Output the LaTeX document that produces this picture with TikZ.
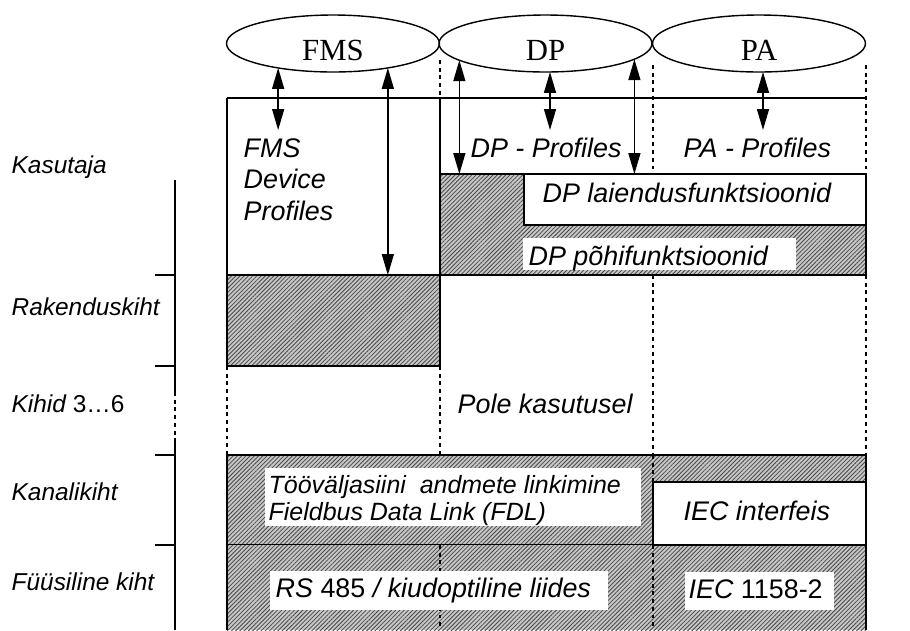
\documentclass[tikz,border=0pt]{standalone}
\usepackage{fontspec}
\setmainfont{Liberation Serif}
\setsansfont{Liberation Sans}
\usetikzlibrary{arrows.meta, shapes.geometric, patterns.meta, positioning}
\definecolor{Hatch}{rgb}{0.78,0.78,0.78}
\definecolor{HatchLine}{rgb}{0.28,0.28,0.28}

\begin{document}
\begin{tikzpicture}[x=0.02cm, y=-0.02cm, line width=0.8pt,
    proto/.style={ellipse, draw, minimum width=4.26cm, minimum height=1.14cm,
        inner sep=0pt, outer sep=0pt, text height=0.66cm, text depth=0pt,
        font=\fontsize{17.5}{20}\selectfont},
    layer/.style={inner sep=0pt, font=\sffamily\itshape\fontsize{13.9}{16}\selectfont},
    lbl/.style={inner sep=0pt, font=\sffamily\itshape\fontsize{15.3}{18}\selectfont},
    link/.style={inner sep=0pt, font=\sffamily\itshape\fontsize{14.2}{17}\selectfont},
    hatchfill/.style={preaction={fill=Hatch},
        pattern={Lines[angle=45,distance=1.7pt,line width=0.45pt]}, pattern color=HatchLine},
    hatched/.style={hatchfill, draw=black},
    dots/.style={line width=1.1pt, dash pattern=on 2.2pt off 2.2pt},
    dbl/.style={{Triangle[length=0.42cm,width=0.24cm]}-{Triangle[length=0.42cm,width=0.24cm]}}
]

    \useasboundingbox (0,0) rectangle (910,630);

    % protocol ellipses
    \node[proto] (fms) at (333,43.5) {FMS};
    \node[proto] (dp) at (545.5,43.5) {DP};
    \node[proto] (pa) at (759,43.5) {PA};

    % hatched layers
    \filldraw[hatched] (227,275) rectangle (440,366);
    \filldraw[hatched]
        (440,174)
        -- (524,174)
        -- (524,225)
        -- (866,225)
        -- (866,275)
        -- (440,275)
        -- cycle;
    \filldraw[hatched] (227,455) rectangle (866,545);
    \fill[hatchfill] (227,545) rectangle (866,630);

    % dotted lines under the labels
    \draw[dots] (653,455) -- (653,482);
    \draw[dots] (653,545) -- (653,630);
    \draw[dots] (440,545) -- (440,630);

    % white boxes
    \filldraw[fill=white] (524,174) rectangle (866,225);
    \filldraw[fill=white] (653,482) rectangle (866,545);
    \fill[white] (523,238) rectangle (796,270);
    \fill[white] (265,468) rectangle (641,526);
    \fill[white] (270,571) rectangle (608,610);
    \fill[white] (685,572) rectangle (834,610);

    % frame
    \draw (227,98) -- (866,98);
    \draw (227,98) -- (227,275);
    \draw (440,98) -- (440,275);
    \draw (227,545) -- (227,630);
    \draw (866,545) -- (866,630);

    % column borders
    \draw[dots] (440,60) -- (440,98);
    \draw[dots] (653,65) -- (653,174);
    \draw[dots] (866,65) -- (866,174);
    \draw[dots] (227,366) -- (227,455);
    \draw[dots] (440,366) -- (440,455);
    \draw[dots] (653,275) -- (653,455);
    \draw[dots] (866,275) -- (866,455);

    % layer scale
    \draw (175,180) -- (175,392);
    \draw[dots] (175,392) -- (175,442);
    \draw (175,442) -- (175,630);
    \foreach \y in {275,366,455,545}
        \draw (155,\y) -- (175,\y);

    % layer names
    \node[layer, anchor=base west] (kasutaja) at (11,173) {Kasutaja};
    \node[layer, anchor=base west] (rakendus) at (11,315) {Rakenduskiht};
    \node[layer, anchor=base west] (kihid) at (11,412) {Kihid {\upshape 3…6}};
    \node[layer, anchor=base west] (kanali) at (11,500) {Kanalikiht};
    \node[layer, anchor=base west] (fyysi) at (11,590) {Füüsiline kiht};

    % box labels
    \node[lbl, anchor=base west] (fmsp1) at (243,157) {FMS};
    \node[lbl, anchor=base west] (fmsp2) at (243,188) {Device};
    \node[lbl, anchor=base west] (fmsp3) at (243,220) {Profiles};
    \node[lbl, anchor=base west] (dpprof) at (470,157) {DP - Profiles};
    \node[lbl, anchor=base west] (paprof) at (683,157) {PA - Profiles};
    \node[lbl, anchor=base west] (dpext) at (542,202) {DP laiendusfunktsioonid};
    \node[lbl, anchor=base west] (dpbase) at (528,265) {DP põhifunktsioonid};
    \node[lbl, anchor=base west] (unused) at (457,413) {Pole kasutusel};
    \node[link, anchor=base west] (fdl1) at (268,493) {Tööväljasiini\ \ andmete linkimine};
    \node[link, anchor=base west] (fdl2) at (268,520) {Fieldbus Data Link (FDL)};
    \node[lbl, anchor=base west] (rs) at (275,597) {RS {\upshape 485} / kiudoptiline liides};
    \node[lbl, anchor=base west] (iec) at (683,520) {IEC interfeis};
    \node[lbl, anchor=base west] (iecphy) at (688,598) {IEC {\upshape 1158-2}};

    % arrows from protocols
    \coordinate (prof) at (0,130);
    \coordinate (app) at (0,275);
    \coordinate (dptop) at (0,174);
    \draw[dbl] (fms.204) -- (fms.204 |- prof);
    \draw[dbl] (fms.336) -- (fms.336 |- app);
    \draw[dbl] (dp.191) -- (dp.191 |- dptop);
    \draw[dbl] (dp.279) -- (dp.279 |- prof);
    \draw[dbl] (dp.350) -- (dp.350 |- dptop);
    \draw[dbl] (pa.278) -- (pa.278 |- prof);

\end{tikzpicture}
\end{document}
